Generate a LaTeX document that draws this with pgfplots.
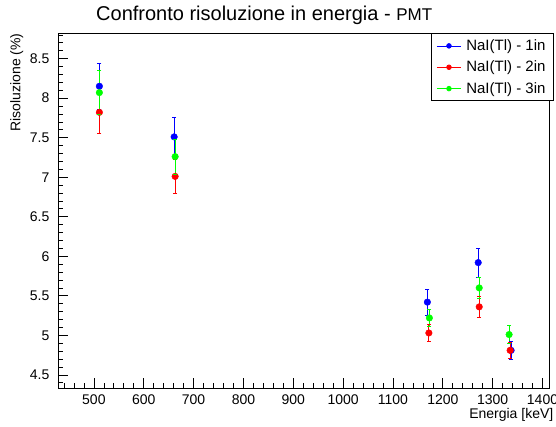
\documentclass[border=0pt]{standalone}
\usepackage{pgfplots}
\pgfplotsset{compat=1.18}
\usepackage{fontspec}
\setmainfont{Liberation Sans}
\pgfplotsset{
  ebar/.style={forget plot, color=#1, line width=0.8pt, mark=-, mark size=2pt, mark options={solid, line width=0.8pt}},
  pts/.style={only marks, color=#1, mark=*, mark size=3.3pt, mark options={fill=#1, draw=#1}},
}
\begin{document}
\begin{tikzpicture}[x=1pt,y=1pt]
\useasboundingbox (0,0) rectangle (556,426);
\begin{axis}[
 at={(58.5pt,37.7pt)}, anchor=south west,
 scale only axis, width=491pt, height=355pt,
 xmin=429, xmax=1414, ymin=4.33, ymax=8.82,
 xtick={500,600,...,1400}, ytick={4.5,5,...,8.5},
 minor xtick={440,460,...,1400}, minor ytick={4.4,4.5,...,8.8},
 tick align=inside, xtick pos=left, ytick pos=left,
 major tick length=10pt, minor tick length=5pt,
 axis line style={line width=0.9pt},
 tick style={black, line width=0.7pt},
 /pgf/number format/assume math mode=true,
 /pgf/number format/1000 sep={},
 tick label style={font=\fontsize{14}{14}\selectfont},
 yticklabel style={inner sep=0pt, xshift=-9pt},
 xticklabel style={inner sep=0pt, yshift=-6.5pt},
 xlabel={Energia [keV]}, ylabel={Risoluzione (\%)},
 label style={font=\fontsize{14}{14}\selectfont},
 xlabel style={at={(rel axis cs:1,0)}, anchor=north east, inner sep=0pt, yshift=-20pt, xshift=4pt},
 ylabel style={at={(axis description cs:-0.0988,1)}, anchor=north east, inner sep=0pt},
 legend style={at={(rel axis cs:1,1)}, anchor=north east, xshift=4.4pt, draw=black, line width=0.8pt,
   font=\fontsize{15}{15}\selectfont, inner xsep=5pt, inner ysep=3pt, row sep=3pt,
   column sep=2pt, nodes={inner sep=3pt}},
 legend cell align=left,
 legend image code/.code={
   \draw[line width=0.7pt] (0pt,0pt) -- (24pt,0pt);
   \draw[mark size=2.3pt] plot coordinates {(12pt,0pt)};
 },
]
% NaI(Tl) - 1in : error bars (y - e, y + e)
\addplot[ebar=blue] coordinates {(511,7.86) (511,8.44)};
\addplot[ebar=blue] coordinates {(661,7.265) (661,7.755)};
\addplot[ebar=blue] coordinates {(1169,5.255) (1169,5.585)};
\addplot[ebar=blue] coordinates {(1271,5.735) (1271,6.105)};
\addplot[ebar=blue] coordinates {(1337,4.695) (1337,4.925)};
\addplot[pts=blue] coordinates {(511,8.15) (661,7.51) (1169,5.42) (1271,5.92) (1337,4.81)};
\addlegendentry{NaI(Tl) - 1in}
% NaI(Tl) - 2in
\addplot[ebar=red] coordinates {(511,7.55) (511,8.09)};
\addplot[ebar=red] coordinates {(663,6.80) (663,7.22)};
\addplot[ebar=red] coordinates {(1172,4.92) (1172,5.14)};
\addplot[ebar=red] coordinates {(1273,5.23) (1273,5.49)};
\addplot[ebar=red] coordinates {(1335,4.71) (1335,4.91)};
\addplot[pts=red] coordinates {(511,7.82) (663,7.01) (1172,5.03) (1273,5.36) (1335,4.81)};
\addlegendentry{NaI(Tl) - 2in}
% NaI(Tl) - 3in
\addplot[ebar=green] coordinates {(511,7.79) (511,8.35)};
\addplot[ebar=green] coordinates {(663,7.04) (663,7.48)};
\addplot[ebar=green] coordinates {(1173,5.11) (1173,5.33)};
\addplot[ebar=green] coordinates {(1273,5.47) (1273,5.73)};
\addplot[ebar=green] coordinates {(1333,4.90) (1333,5.12)};
\addplot[pts=green] coordinates {(511,8.07) (663,7.26) (1173,5.22) (1273,5.60) (1333,5.01)};
\addlegendentry{NaI(Tl) - 3in}
\end{axis}
\node[anchor=base west, inner sep=0pt] at (96,405.5) {\fontsize{20}{20}\selectfont Confronto risoluzione in energia - {\fontsize{17}{17}\selectfont PMT}};
\end{tikzpicture}
\end{document}
